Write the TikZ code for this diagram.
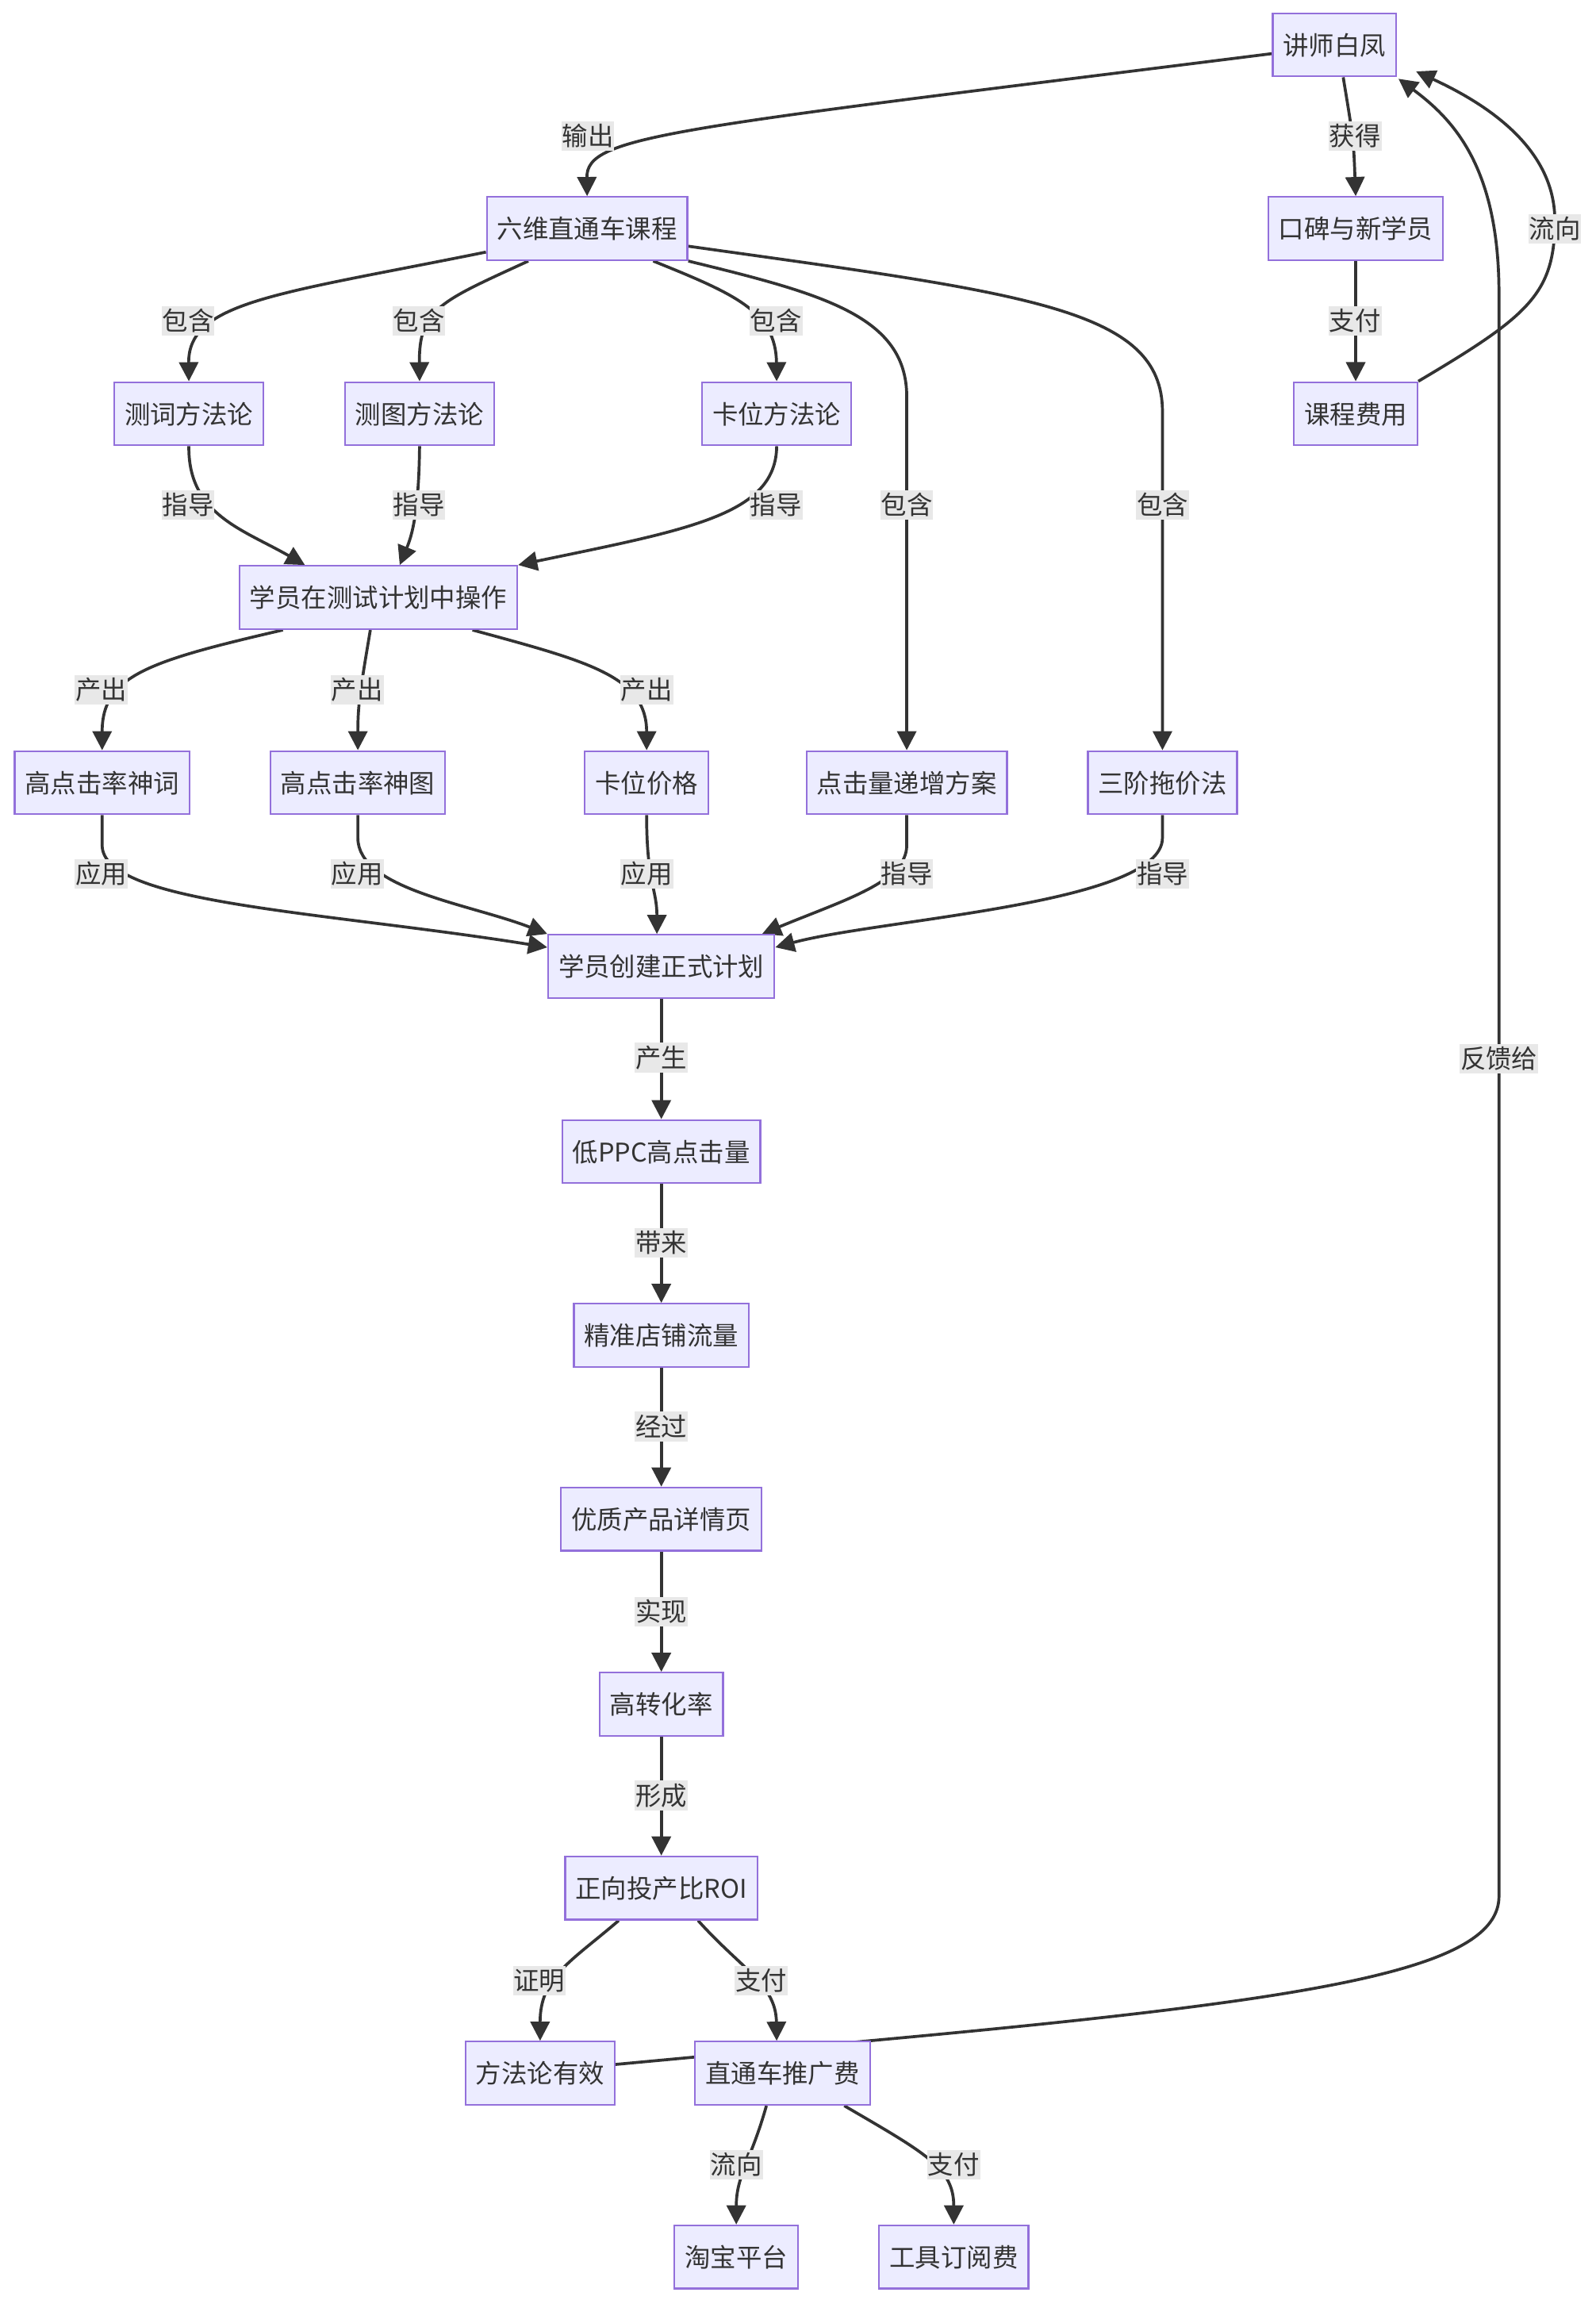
\documentclass[tikz,border=0pt]{standalone}
\usepackage{fontspec}
\setmainfont{Noto Sans CJK SC}
\usetikzlibrary{arrows.meta,backgrounds,calc}
\definecolor{nodefill}{HTML}{ECECFF}
\definecolor{nodeborder}{HTML}{9370DB}
\definecolor{textcol}{HTML}{333333}
\definecolor{edgecol}{HTML}{333333}
\definecolor{lblbg}{HTML}{E8E8E8}
\tikzset{
  box/.style={draw=nodeborder, fill=nodefill, line width=1.2pt, text=textcol,
    minimum height=43pt, inner xsep=7pt, inner ysep=0pt,
    text height=15.5pt, text depth=2pt, font=\fontsize{17.5}{21}\selectfont},
  lbl/.style={fill=lblbg, text=textcol, inner xsep=0.5pt, inner ysep=1pt,
    text height=15.5pt, text depth=2.5pt, font=\fontsize{17.5}{21}\selectfont},
  arr/.style={draw=edgecol, line width=2pt, -{Triangle[length=13pt,width=13pt]}},
}
\begin{document}
\begin{tikzpicture}[x=1pt,y=-1pt]
\useasboundingbox (0,0) rectangle (1086,1567.5);
% nodes
\node[box] (A) at (908,30.5) {讲师白凤};
\node[box] (B) at (399.5,155.5) {六维直通车课程};
\node[box] (C) at (922.5,155.5) {口碑与新学员};
\node[box] (D) at (128.5,281.5) {测词方法论};
\node[box] (E) at (285.5,281.5) {测图方法论};
\node[box] (F) at (528.5,281.5) {卡位方法论};
\node[box] (G) at (922.5,281.5) {课程费用};
\node[box] (H) at (257.5,406.5) {学员在测试计划中操作};
\node[box] (I) at (69.5,532.5) {高点击率神词};
\node[box] (J) at (243.5,532.5) {高点击率神图};
\node[box] (K) at (440,532.5) {卡位价格};
\node[box] (L) at (617,532.5) {点击量递增方案};
\node[box] (M) at (791,532.5) {三阶拖价法};
\node[box] (N) at (450,657.5) {学员创建正式计划};
\node[box] (O) at (450,783.5) {低PPC高点击量};
\node[box] (P) at (450,908.5) {精准店铺流量};
\node[box] (Q) at (450,1033.5) {优质产品详情页};
\node[box] (R) at (450,1159.5) {高转化率};
\node[box] (S) at (450,1284.5) {正向投产比ROI};
\node[box] (T) at (367.5,1410.5) {方法论有效};
\node[box] (U) at (532.5,1410.5) {直通车推广费};
\node[box] (V) at (501,1535.5) {淘宝平台};
\node[box] (W) at (649,1535.5) {工具订阅费};
\begin{scope}[on background layer]
\fill[white] (0,0) rectangle (1086,1567.5);
% edges
\draw[arr] ($(A.west)+(0,6)$) .. controls (455,88) and (399,92) .. (B.north);
\draw[arr] ($(A.south)+(6,0)$) .. controls (921,95) .. (C.north);
\draw[arr] (C.south) -- (G.north);
\draw[arr] (G.north east) .. controls (1040,215) and (1058,200) .. (1058,150)
   .. controls (1058,100) and (1010,70) .. ($(A.south east)+(13,-4)$);
\draw[arr] ($(T.east)+(0,-6)$) -- (596,1388) .. controls (900,1360) and (1020,1340) .. (1020,1290)
   -- (1020,200) .. controls (1020,115) and (990,82) .. ($(A.south east)+(1,1)$);
\draw[arr] ($(B.west)+(0,16)$) .. controls (190,200) and (128,205) .. (D.north);
\draw[arr] ($(B.south)+(-40,0)$) .. controls (300,205) and (285,210) .. (E.north);
\draw[arr] ($(B.south)+(45,0)$) .. controls (500,200) and (528,212) .. (F.north);
\draw[arr] (B.south east) .. controls (560,200) and (617,215) .. (617,270) -- (L.north);
\draw[arr] ($(B.east)+(0,12)$) .. controls (700,200) and (791,210) .. (791,280) -- (M.north);
\draw[arr] (D.south) .. controls (128,350) and (165,360) .. ($(H.north)+(-50,0)$);
\draw[arr] (E.south) .. controls (285,350) and (280,365) .. ($(H.north)+(14.5,0)$);
\draw[arr] (F.south) .. controls (528,350) and (470,360) .. (H.north east);
\draw[arr] ($(H.south)+(-65,0)$) .. controls (100,450) and (69.5,460) .. (I.north);
\draw[arr] ($(H.south)+(-5.5,0)$) .. controls (245,470) and (243.5,480) .. (J.north);
\draw[arr] ($(H.south)+(64,0)$) .. controls (400,450) and (440,460) .. (K.north);
\draw[arr] (I.south) -- (69.5,575) .. controls (69.5,615) and (220,620) .. ($(N.west)+(0,-13)$);
\draw[arr] (J.south) -- (243.5,570) .. controls (243.5,605) and (320,615) .. (N.north west);
\draw[arr] (K.south) .. controls (440,600) and (447,605) .. ($(N.north)+(-3,0)$);
\draw[arr] (L.south) -- (617,575) .. controls (617,600) and (575,612) .. ($(N.north east)+(-9,0)$);
\draw[arr] (M.south) -- (791,570) .. controls (791,615) and (600,625) .. ($(N.east)+(0,-13)$);
\draw[arr] (N.south) -- (O.north);
\draw[arr] (O.south) -- (P.north);
\draw[arr] (P.south) -- (Q.north);
\draw[arr] (Q.south) -- (R.north);
\draw[arr] (R.south) -- (S.north);
\draw[arr] ($(S.south)+(-29,0)$) .. controls (388,1335) and (367.5,1345) .. (T.north);
\draw[arr] ($(S.south)+(25,0)$) .. controls (505,1340) and (528,1350) .. ($(U.north)+(-4,0)$);
\draw[arr] ($(U.south)+(-11,0)$) .. controls (511,1470) and (501,1480) .. (V.north);
\draw[arr] ($(U.south)+(42,0)$) .. controls (630,1465) and (649,1475) .. (W.north);
% labels
\node[lbl] (l1) at (400,92.5) {输出};
\node[lbl] (l2) at (922,92.5) {获得};
\node[lbl] (l3) at (1058,155.5) {流向};
\node[lbl] (l4) at (922,218.5) {支付};
\node[lbl] (l5) at (128,218.5) {包含};
\node[lbl] (l6) at (285,218.5) {包含};
\node[lbl] (l7) at (528,218.5) {包含};
\node[lbl] (l8) at (617,343.5) {包含};
\node[lbl] (l9) at (791,343.5) {包含};
\node[lbl] (l10) at (128,343.5) {指导};
\node[lbl] (l11) at (285,343.5) {指导};
\node[lbl] (l12) at (528,343.5) {指导};
\node[lbl] (l13) at (69,469.5) {产出};
\node[lbl] (l14) at (243,469.5) {产出};
\node[lbl] (l15) at (440,469.5) {产出};
\node[lbl] (l16) at (69,594.5) {应用};
\node[lbl] (l17) at (243,594.5) {应用};
\node[lbl] (l18) at (440,594.5) {应用};
\node[lbl] (l19) at (617,594.5) {指导};
\node[lbl] (l20) at (791,594.5) {指导};
\node[lbl] (l21) at (450,719.5) {产生};
\node[lbl] (l22) at (450,845.5) {带来};
\node[lbl] (l23) at (450,970.5) {经过};
\node[lbl] (l24) at (450,1096.5) {实现};
\node[lbl] (l25) at (450,1221.5) {形成};
\node[lbl] (l26) at (367,1347.5) {证明};
\node[lbl] (l27) at (518,1347.5) {支付};
\node[lbl] (l28) at (1020,720.5) {反馈给};
\node[lbl] (l29) at (501,1472.5) {流向};
\node[lbl] (l30) at (649,1472.5) {支付};
\end{scope}
\end{tikzpicture}
\end{document}
